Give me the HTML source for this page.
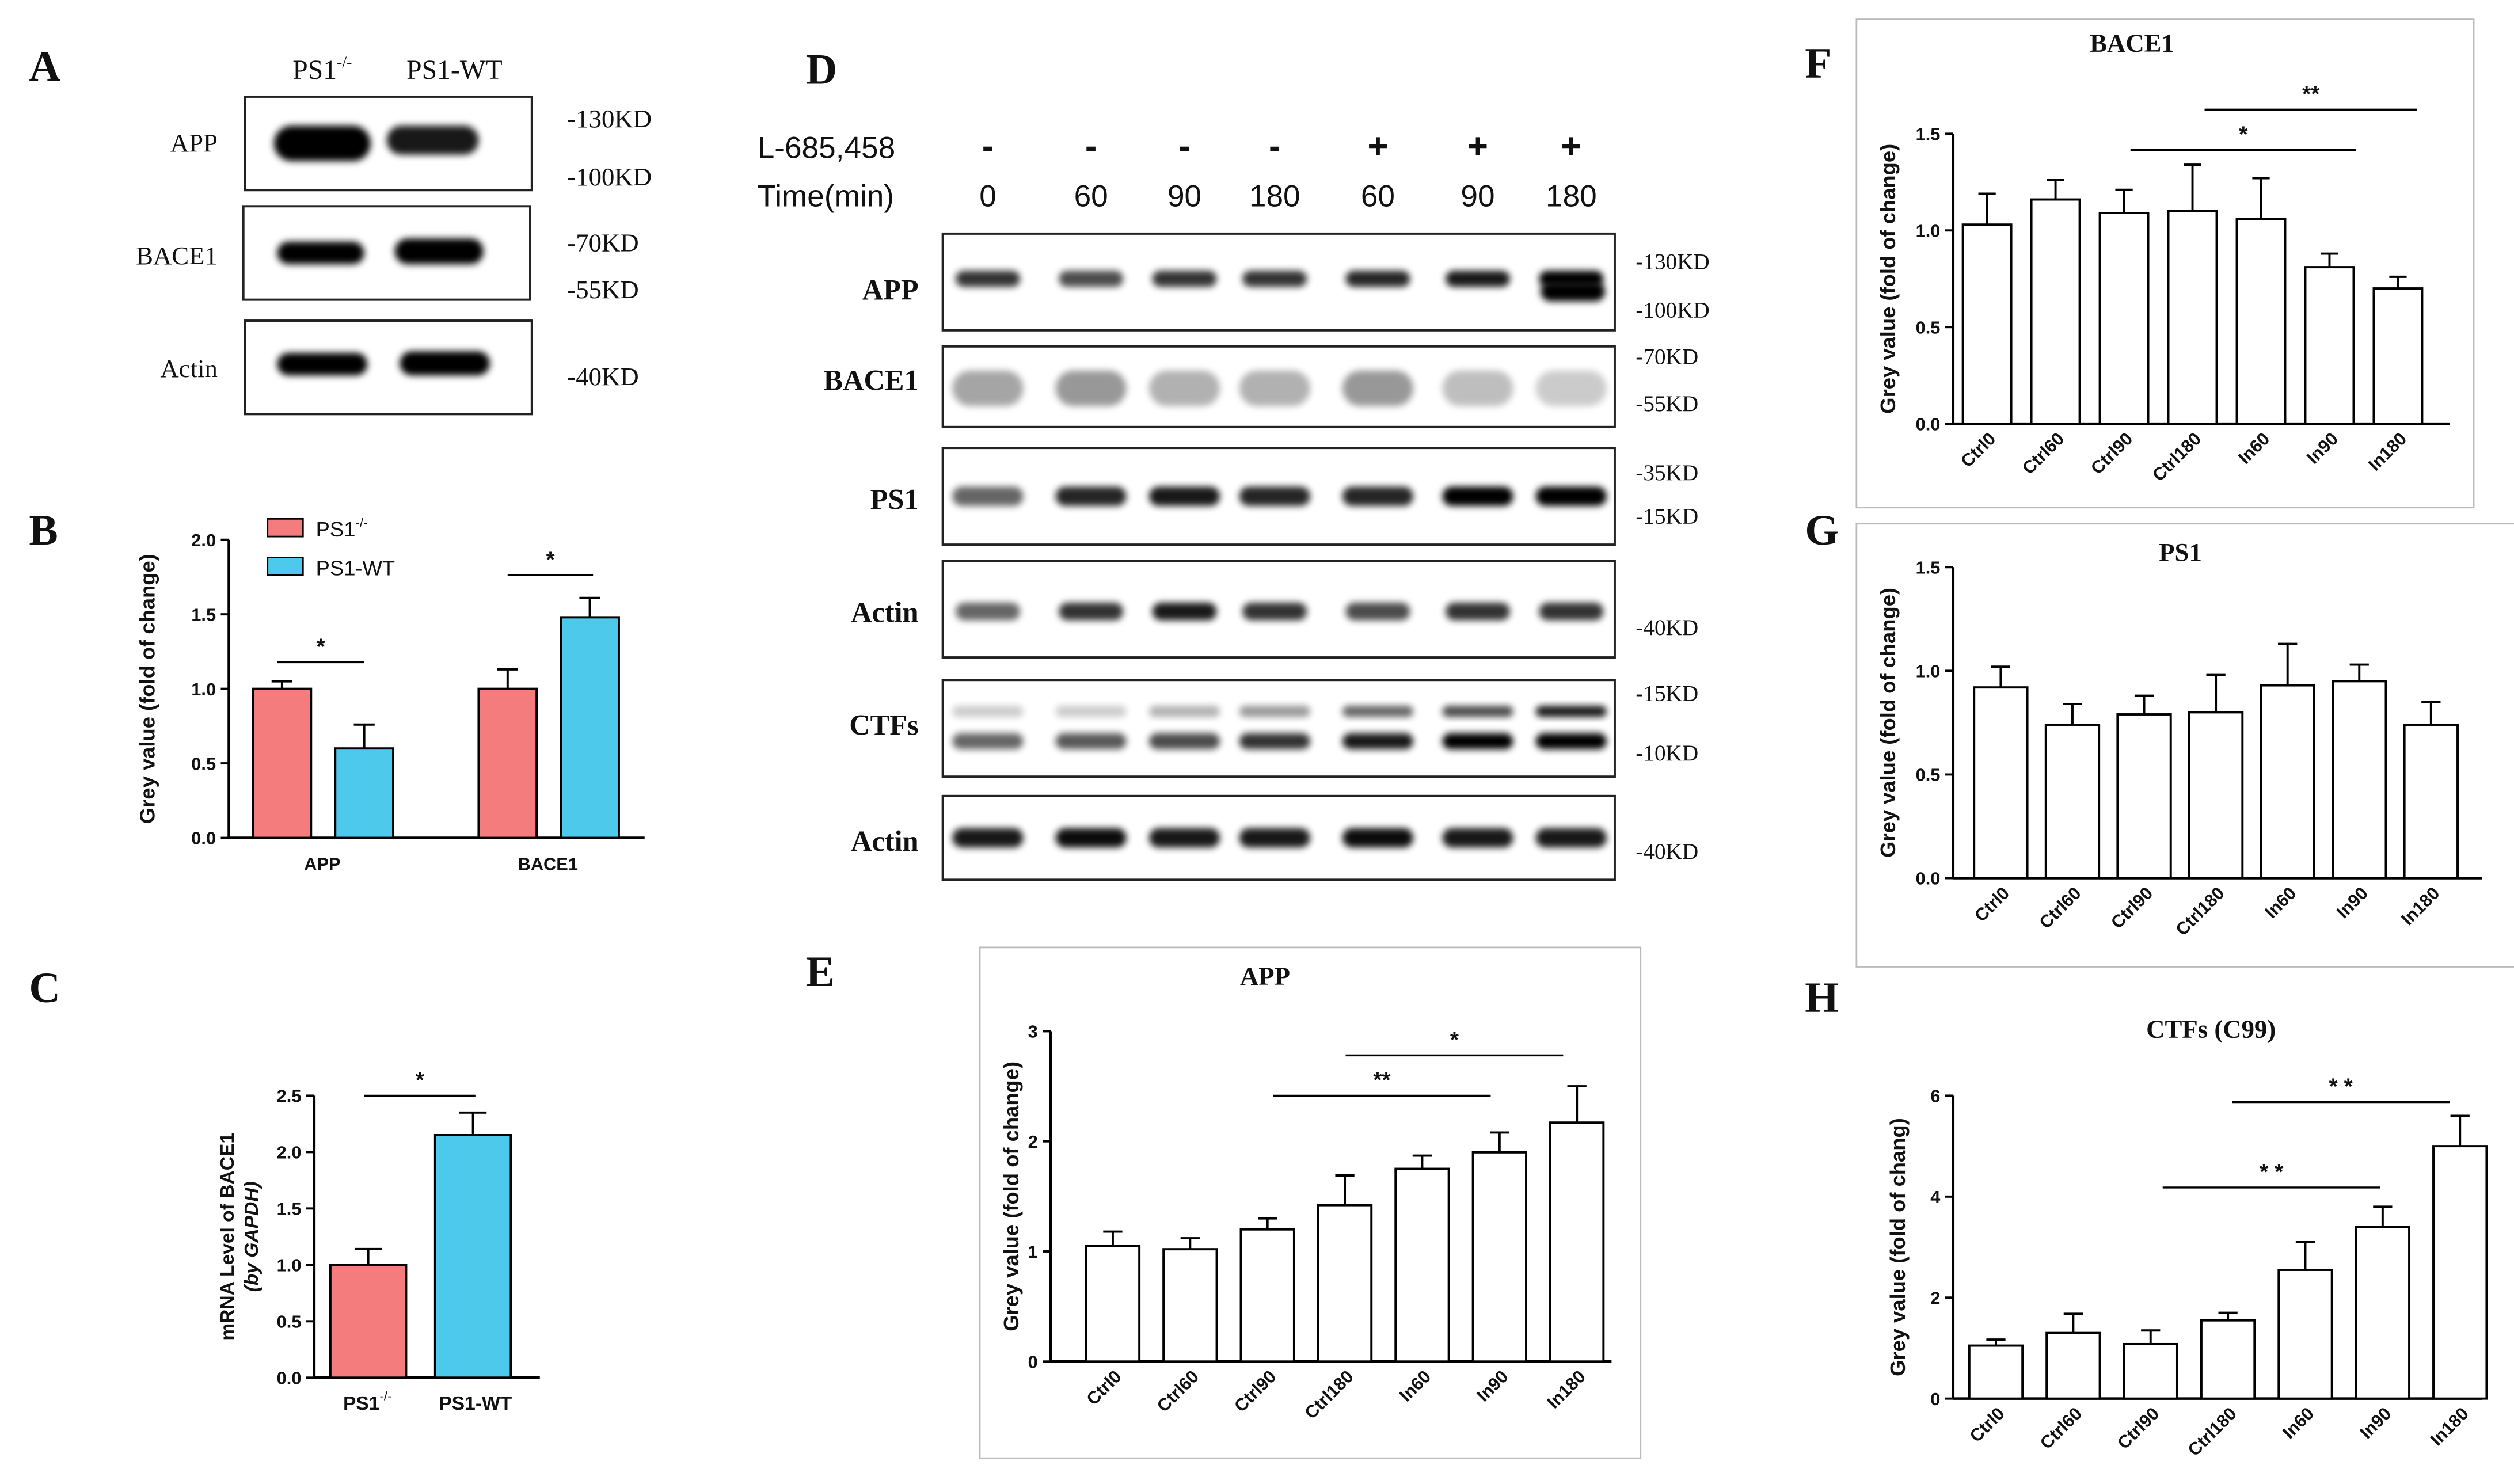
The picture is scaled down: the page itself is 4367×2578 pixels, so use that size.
<!DOCTYPE html>
<html><head><meta charset="utf-8">
<style>
html,body{margin:0;padding:0;background:#fff;}
svg{display:block;}
.lbl{font-family:"Liberation Serif",serif;font-weight:bold;}
.ser{font-family:"Liberation Serif",serif;}
.sans{font-family:"Liberation Sans",sans-serif;}
</style></head>
<body>
<svg id="fig" width="4367" height="2578" viewBox="0 0 1560 921" preserveAspectRatio="none" xmlns="http://www.w3.org/2000/svg">
<defs>
<filter id="blur" x="-20%" y="-50%" width="140%" height="200%"><feGaussianBlur stdDeviation="2.2"/></filter>
<filter id="blur2" x="-20%" y="-50%" width="140%" height="200%"><feGaussianBlur stdDeviation="4"/></filter>
</defs>
<g id="root"></g>
</svg>
<script>
// ---- data ----
const bCategories = ["APP","BACE1"];
const bKO = [1.0, 1.0];
const bKOErr = [0.05, 0.13];
const bWT = [0.6, 1.48];
const bWTErr = [0.16, 0.13];
const bTicks = [0,0.5,1.0,1.5,2.0];
const cCategories = ["PS1-/-","PS1-WT"];
const cValues = [1.0, 2.15];
const cErr = [0.14, 0.2];
const cTicks = [0,0.5,1.0,1.5,2.0,2.5];
const groups = ["Ctrl0","Ctrl60","Ctrl90","Ctrl180","In60","In90","In180"];
const eValues = [1.05,1.02,1.2,1.42,1.75,1.9,2.17];
const eErr = [0.13,0.1,0.1,0.27,0.12,0.18,0.33];
const eTicks = [0,1,2,3];
const fValues = [1.03,1.16,1.09,1.1,1.06,0.81,0.7];
const fErr = [0.16,0.1,0.12,0.24,0.21,0.07,0.06];
const fTicks = [0,0.5,1.0,1.5];
const gValues = [0.92,0.74,0.79,0.8,0.93,0.95,0.74];
const gErr = [0.1,0.1,0.09,0.18,0.2,0.08,0.11];
const gTicks = [0,0.5,1.0,1.5];
const hValues = [1.05,1.3,1.08,1.55,2.55,3.4,5.0];
const hErr = [0.12,0.38,0.27,0.15,0.55,0.4,0.6];
const hTicks = [0,2,4,6];
const timeLabels = ["0","60","90","180","60","90","180"];
const inhibLabels = ["-","-","-","-","+","+","+"];

const NS="http://www.w3.org/2000/svg";
const root=document.getElementById('root');
function el(tag,attrs,parent,text){const e=document.createElementNS(NS,tag);for(const k in attrs)e.setAttribute(k,attrs[k]);if(text!==undefined)e.textContent=text;(parent||root).appendChild(e);return e;}
function txt(x,y,s,size,cls,anchor,parent){const t=el('text',{x:x,y:y,'font-size':size,class:cls||'ser','text-anchor':anchor||'start',fill:'#111'},parent,s);return t;}

// panel letters
[["A",18,50],["B",18,338],["C",18,622],["D",500,52],["E",500,612],["F",1120,48],["G",1120,338],["H",1120,628]].forEach(p=>{
 const t=txt(p[1],p[2],p[0],27,'lbl');
 
 
});

// ---- blots ----
function blot(name,x,y,w,h,bands,parent){
 const g=el('g',{},parent);
 
 
 el('rect',{x:x,y:y,width:w,height:h,fill:'#fff',stroke:'#222','stroke-width':1.4},g);
 bands.forEach(b=>{el('rect',{x:b[0],y:b[1],width:b[2],height:b[3],rx:b[3]/2,fill:b[4]||'#000',opacity:b[5]||1,filter:'url(#blur)'},g);});
 return g;
}
// Panel A
txt(200,49,"PS1",17,'ser','middle').innerHTML='PS1<tspan font-size="10" dy="-7">-/-</tspan>';
txt(282,49,"PS1-WT",17,'ser','middle');
[["APP",88],["BACE1",158],["Actin",228]].forEach(r=>{txt(135,r[1]+6,r[0],16,'ser','end');});
blot('blot-a-app',152,60,178,58,[[170,78,60,22],[240,78,57,18,'#000',0.9]]);
blot('blot-a-bace1',151,128,178,58,[[172,150,54,14],[245,148,55,16]]);
blot('blot-a-actin',152,199,178,58,[[172,219,56,14],[248,218,56,15]]);
[["-130KD",79],["-100KD",115],["-70KD",156],["-55KD",185],["-40KD",239]].forEach(k=>txt(352,k[1],k[0],16,'ser'));

// Panel D
txt(470,98,"L-685,458",19,'sans');
txt(470,128,"Time(min)",19,'sans');
const dCols=[613,677,735,791,855,917,975];
dCols.forEach((cx,i)=>{
 txt(cx,98,inhibLabels[i],22,'sans','middle').setAttribute('font-weight','bold');
 txt(cx,128,timeLabels[i],19,'sans','middle');
});
function lanes(y,h,wid,ints){return dCols.map((cx,i)=>[cx-wid/2,y,wid,h,'#000',ints[i]]);}
const dRows=[["APP",145,60,180,lanes(168,10,40,[.8,.7,.8,.8,.85,.9,1]).concat([[956,175,40,12,'#000',1]])],
["BACE1",215,50,236,lanes(230,22,44,[.35,.4,.3,.3,.4,.25,.2])],
["PS1",278,60,310,lanes(302,12,44,[.6,.85,.9,.85,.85,1,1])],
["Actin",348,60,380,lanes(374,11,40,[.6,.8,.9,.8,.7,.8,.8])],
["CTFs",422,60,450,lanes(455,10,44,[.6,.65,.7,.8,.9,1,1]).concat(lanes(438,7,44,[.2,.2,.3,.4,.6,.7,.9]))],
["Actin",494,52,522,lanes(514,12,44,[.9,.95,.9,.9,.95,.9,.9])]];
dRows.forEach((r,i)=>{
 txt(570,r[3]+6,r[0],18,'ser','end').setAttribute('font-weight','bold');
 blot('blot-d-'+r[0].toLowerCase()+'-'+i,585,r[1],417,r[2],r[4]);
});
[["-130KD",167],["-100KD",197],["-70KD",226],["-55KD",255],["-35KD",298],["-15KD",325],["-40KD",394],["-15KD",435],["-10KD",472],["-40KD",533]].forEach(k=>txt(1015,k[1],k[0],14,'ser'));

// ---- bar chart helper ----
function axisChart(o){
 const g=el('g',{});
 
 
 const y=v=>o.y0-(v-o.ticks[0])/(o.ticks[o.ticks.length-1]-o.ticks[0])*(o.y0-o.y1);
 el('line',{x1:o.ax,x2:o.ax,y1:o.y1,y2:o.y0,stroke:'#000','stroke-width':1.6},g);
 el('line',{x1:o.ax,x2:o.xend,y1:o.y0,y2:o.y0,stroke:'#000','stroke-width':1.6},g);
 o.ticks.forEach(t=>{
  el('line',{x1:o.ax-5,x2:o.ax,y1:y(t),y2:y(t),stroke:'#000','stroke-width':1.4},g);
  const s=txt(o.ax-8,y(t)+4,o.fmt?o.fmt(t):t.toFixed(1),11,'sans','end',g);s.setAttribute('font-weight','bold');
 });
 const yl=txt(0,0,o.ylabel,o.ylsize||13,'sans','middle',g);
 yl.setAttribute('font-weight','bold');
 yl.setAttribute('transform','translate('+o.ylx+','+((o.y0+o.y1)/2)+') rotate(-90)');
 
 
 return {g:g,y:y};
}
function bar(g,name,x,w,yTop,yBase,yErr,fill){
 const r=el('rect',{x:x,y:yTop,width:w,height:yBase-yTop,fill:fill,stroke:'#000','stroke-width':1.4},g);
 
 
 const cx=x+w/2;
 el('line',{x1:cx,x2:cx,y1:yTop,y2:yErr,stroke:'#000','stroke-width':1.4},g);
 el('line',{x1:cx-w*0.18,x2:cx+w*0.18,y1:yErr,y2:yErr,stroke:'#000','stroke-width':1.4},g);
}
function sig(g,x1,x2,yy,s){el('line',{x1:x1,x2:x2,y1:yy,y2:yy,stroke:'#000','stroke-width':1.2},g);txt((x1+x2)/2,yy-5,s,14,'sans','middle',g).setAttribute('font-weight','bold');}

// Panel B
{
 const c=axisChart({name:'chart-b',ax:142,y0:520,y1:335,xend:400,ticks:bTicks,ylabel:'Grey value (fold of change)',ylx:96});
 bCategories.forEach((cat,i)=>{
  const x=157+i*140;
  bar(c.g,'bar-ko-'+cat.toLowerCase(),x,36,c.y(bKO[i]),520,c.y(bKO[i]+bKOErr[i]),'#f47c7c');
  bar(c.g,'bar-wt-'+cat.toLowerCase(),x+51,36,c.y(bWT[i]),520,c.y(bWT[i]+bWTErr[i]),'#4dc9ec');
  txt(x+43,540,cat,11,'sans','middle',c.g).setAttribute('font-weight','bold');
 });
 sig(c.g,172,226,411,'*');sig(c.g,315,368,357,'*');
 const lg=el('g',{},c.g);
 el('rect',{x:166,y:322,width:22,height:11,fill:'#f47c7c',stroke:'#000'},lg);
 txt(196,333,'',13,'sans','start',lg).innerHTML='PS1<tspan font-size="8" dy="-6">-/-</tspan>';
 el('rect',{x:166,y:346,width:22,height:11,fill:'#4dc9ec',stroke:'#000'},lg);
 txt(196,357,'PS1-WT',13,'sans','start',lg);
}
// Panel C
{
 const c=axisChart({name:'chart-c',ax:195,y0:855,y1:680,xend:335,ticks:cTicks,ylabel:'mRNA Level of BACE1',ylx:145,ylsize:12});
 const yl2=txt(0,0,'(by GAPDH)',12,'sans','middle',c.g);yl2.setAttribute('font-style','italic');yl2.setAttribute('font-weight','bold');
 yl2.setAttribute('transform','translate(160,'+((855+680)/2)+') rotate(-90)');
 cCategories.forEach((cat,i)=>{
  const x=205+i*65;
  bar(c.g,'bar-c-'+i,x,47,c.y(cValues[i]),855,c.y(cValues[i]+cErr[i]),i?'#4dc9ec':'#f47c7c');
 });
 txt(228,875,'',12,'sans','middle',c.g).innerHTML='<tspan font-weight="bold">PS1</tspan><tspan font-size="8" dy="-6">-/-</tspan>';
 txt(295,875,'PS1-WT',12,'sans','middle',c.g).setAttribute('font-weight','bold');
 sig(c.g,226,295,680,'*');
}
// Panels E,F,G,H
function groupChart(o){
 if(o.box){const b=el('rect',{x:o.box[0],y:o.box[1],width:o.box[2],height:o.box[3],fill:'none',stroke:'#bbb','stroke-width':1});}
 const c=axisChart(o);
 const t=txt(o.tx,o.ty,o.title,16,'ser','middle',c.g);t.setAttribute('font-weight','bold');
 
 groups.forEach((gname,i)=>{
  const x=o.bx+i*o.step;
  bar(c.g,'bar-'+gname.toLowerCase(),x,o.bw,c.y(o.vals[i]),o.y0,c.y(o.vals[i]+o.errs[i]),'#fff');
  const l=txt(0,0,gname,11,'sans','end',c.g);l.setAttribute('font-weight','bold');
  l.setAttribute('transform','translate('+(x+o.bw/2+6)+','+(o.y0+10)+') rotate(-45)');
 });
 (o.sigs||[]).forEach(s=>sig(c.g,s[0],s[1],s[2],s[3]));
}
groupChart({name:'chart-e',box:[608,588,410,317],ax:652,y0:845,y1:640,xend:1000,ticks:eTicks,fmt:t=>String(t),vals:eValues,errs:eErr,bx:674,step:48,bw:33,title:'APP',tx:785,ty:611,ylabel:'Grey value  (fold of change)',ylx:632,sigs:[[790,925,680,'**'],[835,970,655,'*']]});
groupChart({name:'chart-f',box:[1152,12,383,303],ax:1212,y0:263,y1:83,xend:1520,ticks:fTicks,vals:fValues,errs:fErr,bx:1218,step:42.5,bw:30,title:'BACE1',tx:1323,ty:32,ylabel:'Grey value  (fold of change)',ylx:1176,sigs:[[1322,1462,93,'*'],[1368,1500,68,'**']]});
groupChart({name:'chart-g',box:[1152,325,410,275],ax:1212,y0:545,y1:352,xend:1540,ticks:gTicks,vals:gValues,errs:gErr,bx:1225,step:44.5,bw:33,title:'PS1',tx:1353,ty:348,ylabel:'Grey value  (fold of change)',ylx:1176});
groupChart({name:'chart-h',ax:1212,y0:868,y1:680,xend:1540,ticks:hTicks,fmt:t=>String(t),vals:hValues,errs:hErr,bx:1222,step:48,bw:33,title:'CTFs (C99)',tx:1372,ty:644,ylabel:'Grey value (fold of chang)',ylx:1182,sigs:[[1342,1477,737,'* *'],[1385,1520,684,'* *']]});
</script>
</body></html>
